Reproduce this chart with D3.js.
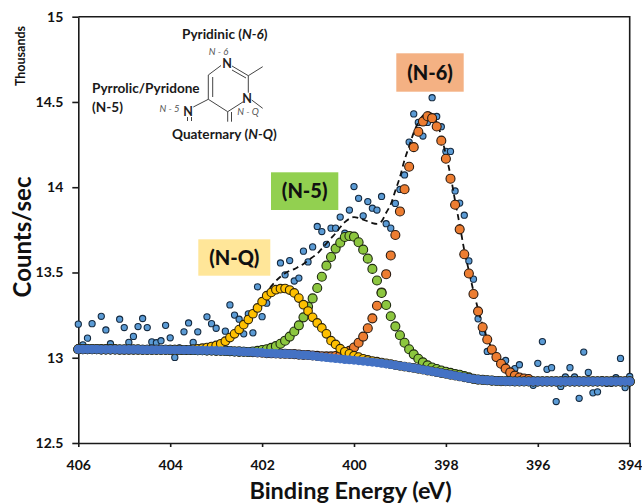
<!DOCTYPE html>
<html>
<head>
<meta charset="utf-8">
<script src="https://cdn.jsdelivr.net/npm/d3@7"></script>
<style>
body { margin: 0; background: #fff; }
text { font-family: Lato, "Open Sans", sans-serif; }
</style>
</head>
<body>
<div id="my_dataviz"></div>
<script>
// Binding energy, one reading every 0.1 eV
const energies = [
  406,405.9,405.8,405.7,405.6,405.5,405.4,405.3,405.2,405.1,
  405,404.9,404.8,404.7,404.6,404.5,404.4,404.3,404.2,404.1,
  404,403.9,403.8,403.7,403.6,403.5,403.4,403.3,403.2,403.1,
  403,402.9,402.8,402.7,402.6,402.5,402.4,402.3,402.2,402.1,
  402,401.9,401.8,401.7,401.6,401.5,401.4,401.3,401.2,401.1,
  401,400.9,400.8,400.7,400.6,400.5,400.4,400.3,400.2,400.1,
  400,399.9,399.8,399.7,399.6,399.5,399.4,399.3,399.2,399.1,
  399,398.9,398.8,398.7,398.6,398.5,398.4,398.3,398.2,398.1,
  398,397.9,397.8,397.7,397.6,397.5,397.4,397.3,397.2,397.1,
  397,396.9,396.8,396.7,396.6,396.5,396.4,396.3,396.2,396.1,
  396,395.9,395.8,395.7,395.6,395.5,395.4,395.3,395.2,395.1,
  395,394.9,394.8,394.7,394.6,394.5,394.4,394.3,394.2,394.1,
  394];

// Measured counts (thousands)
const rawCounts = [
  13.197,13.076,13.115,13.2,13.05,13.243,13.163,13.082,13.05,13.226,
  13.177,13.09,13.125,13.183,13.23,13.177,13.093,13.088,13.1,13.19,
  13.117,13.002,13.058,13.152,13.204,13.09,13.152,13.05,13.24,13.2,
  13.173,13.06,13.156,13.31,13.25,13.226,13.14,13.257,13.146,13.416,
  13.241,13.32,13.38,13.4,13.556,13.486,13.57,13.45,13.467,13.625,
  13.562,13.65,13.77,13.74,13.665,13.76,13.76,13.825,13.73,13.866,
  14.004,13.935,13.832,13.916,13.877,13.866,13.946,13.786,13.76,13.905,
  13.987,14.072,14.265,14.43,14.38,14.3,14.38,14.525,14.415,14.355,
  14.21,14.21,13.978,13.907,13.836,13.568,13.461,13.228,13.15,13.037,
  13.04,13,12.97,12.984,12.89,12.936,12.959,12.87,12.88,12.838,
  12.967,13.095,12.932,12.942,12.743,12.832,12.887,12.942,12.887,12.762,
  13.033,12.914,12.794,12.8,12.87,12.85,12.85,12.883,12.996,12.825,
  12.89];

// Background under the peaks
const baseline = [
  13.05,13.05,13.05,13.05,13.05,13.049,13.049,13.049,13.049,13.048,
  13.048,13.048,13.048,13.048,13.047,13.047,13.047,13.047,13.047,13.047,
  13.046,13.046,13.046,13.045,13.045,13.045,13.044,13.044,13.043,13.043,
  13.042,13.041,13.04,13.039,13.037,13.036,13.035,13.034,13.033,13.031,
  13.03,13.027,13.026,13.025,13.024,13.023,13.022,13.021,13.018,13.016,
  13.014,13.011,13.008,13.004,13.001,12.998,12.995,12.993,12.99,12.988,
  12.986,12.983,12.98,12.977,12.974,12.971,12.968,12.964,12.96,12.956,
  12.952,12.948,12.944,12.94,12.935,12.93,12.925,12.92,12.915,12.91,
  12.905,12.9,12.895,12.89,12.885,12.88,12.876,12.872,12.87,12.868,
  12.866,12.864,12.863,12.862,12.862,12.861,12.861,12.861,12.861,12.861,
  12.861,12.861,12.861,12.861,12.861,12.861,12.861,12.861,12.861,12.861,
  12.861,12.861,12.861,12.861,12.861,12.861,12.861,12.861,12.861,12.861,
  12.861];

// Fitted peaks, they sit on the baseline outside the values listed here
const n6Peak = [
  13.016,13.013,13.011,13.009,13.008,13.008,13.01,13.014,13.024,13.04,
  13.06,13.088,13.124,13.173,13.231,13.305,13.383,13.49,13.6,13.72,
  13.858,13.988,14.12,14.235,14.325,14.385,14.416,14.405,14.356,14.273,
  14.167,14.05,13.897,13.753,13.607,13.494,13.374,13.272,13.179,13.107,
  13.048,13.004,12.965,12.936,12.914,12.895,12.884,12.878,12.875];
const n6Counts = baseline.slice(0, 50).concat(n6Peak, baseline.slice(99));

const n5Peak = [
  13.034,13.037,13.04,13.045,13.05,13.058,13.068,13.082,13.1,13.124,
  13.154,13.19,13.237,13.3,13.348,13.409,13.475,13.54,13.591,13.64,
  13.675,13.708,13.714,13.71,13.677,13.634,13.581,13.521,13.453,13.38,
  13.309,13.243,13.184,13.132,13.088,13.05,13.02,12.994,12.973,12.955,
  12.943,12.934,12.925,12.918,12.911,12.905,12.9,12.893,12.885];
const n5Counts = baseline.slice(0, 37).concat(n5Peak, baseline.slice(86));

const nqPeak = [
  13.05,13.052,13.056,13.06,13.066,13.072,13.082,13.097,13.118,13.14,
  13.165,13.194,13.224,13.258,13.292,13.329,13.364,13.383,13.399,13.405,
  13.406,13.397,13.38,13.35,13.311,13.274,13.237,13.204,13.175,13.14,
  13.1,13.078,13.053,13.035,13.023,13.012,13.004,12.994,12.987,12.981,
  12.977,12.972,12.967,12.962,12.957];
const nqCounts = baseline.slice(0, 25).concat(nqPeak, baseline.slice(70));

// Sum of the fit (dashed line)
const envelopePart = [
  13.08,13.09,13.105,13.125,13.15,13.175,13.205,13.235,13.27,13.305,
  13.345,13.38,13.42,13.45,13.475,13.495,13.51,13.52,13.535,13.55,
  13.57,13.59,13.61,13.64,13.67,13.7,13.73,13.765,13.795,13.815,
  13.825,13.82,13.81,13.8,13.79,13.785,13.8,13.85,13.9,13.98,
  14.06,14.16,14.24,14.32,14.38,14.42,14.44,14.43,14.38,14.3,
  14.19,14.07,13.92,13.78,13.63,13.51,13.39,13.285,13.19,13.115,
  13.055,13.01,12.97,12.94,12.915,12.895,12.885,12.878,12.872];
const envelope = baseline.slice(0, 30).concat(envelopePart, baseline.slice(99));

const xTicks = [406, 404, 402, 400, 398, 396, 394];
const yTicks = [12.5, 13, 13.5, 14, 14.5, 15];

const margin = {top: 16.7, right: 12.3, bottom: 60, left: 78.3},
width = 642 - margin.left - margin.right,
height = 503 - margin.top - margin.bottom;

const root = d3.select("#my_dataviz")
.append("svg")
.attr("width", 642)
.attr("height", 503)
.style("display", "block");

const svg = root.append("g")
.attr("transform", `translate(${margin.left},${margin.top})`);

const x = d3.scaleLinear().domain([406, 394]).range([0, width]);
const y = d3.scaleLinear().domain([12.5, 15]).range([height, 0]);

// Frame: top and right edges
svg.append("path")
  .attr("fill", "none")
  .attr("stroke", "#1a1a1a")
  .attr("stroke-width", 1.6)
  .attr("d", `M0,0H${width}V${height}`);

// X axis
const xAxis = svg.append("g")
  .attr("transform", `translate(0,${height})`)
  .call(d3.axisBottom(x).tickValues(xTicks).tickFormat(d3.format("d")).tickSize(4).tickPadding(13).tickSizeOuter(0));

// Y axis
const yAxis = svg.append("g")
  .call(d3.axisLeft(y).tickValues(yTicks).tickFormat(d => d).tickSize(6).tickPadding(9).tickSizeOuter(0));

[xAxis, yAxis].forEach(function(a) {
  a.selectAll("path, line").attr("stroke", "#1a1a1a").attr("stroke-width", 1.6);
  a.selectAll("text").attr("fill", "#111").attr("font-size", 14).attr("font-weight", 700);
});

function dots(values, r, fill, stroke, sw) {
  svg.append("g").selectAll("circle")
    .data(values)
    .join("circle")
    .attr("cx", (d, i) => x(energies[i]))
    .attr("cy", d => y(d))
    .attr("r", r)
    .attr("fill", fill)
    .attr("stroke", stroke)
    .attr("stroke-width", sw);
}

dots(rawCounts, 3.1, "#5b9bd5", "#14293f", 1.1);

svg.append("path")
  .datum(envelope)
  .attr("fill", "none")
  .attr("stroke", "#111")
  .attr("stroke-width", 1.8)
  .attr("stroke-dasharray", "6,4")
  .attr("d", d3.line().x((d, i) => x(energies[i])).y(d => y(d)).curve(d3.curveMonotoneX));

dots(n6Counts, 4.5, "#ed7d31", "#2a1a10", 1.1);
dots(n5Counts, 4.5, "#8cc63f", "#1e2a10", 1.1);
dots(nqCounts, 4.3, "#ffc000", "#2f2508", 1.1);
dots(baseline, 4.5, "#4472c4", "none", 0);

// Peak labels
const peakLabels = [
  {text: "(N-6)", x: 396.3, y: 53.3, w: 67.4, h: 38.4, fill: "#f4b183"},
  {text: "(N-5)", x: 271, y: 172.3, w: 67.3, h: 37.7, fill: "#92d050"},
  {text: "(N-Q)", x: 198.3, y: 239.3, w: 72, h: 36.4, fill: "#ffe699"}
];
peakLabels.forEach(function(l) {
  root.append("rect").attr("x", l.x).attr("y", l.y).attr("width", l.w).attr("height", l.h).attr("fill", l.fill);
  root.append("text").attr("x", l.x + l.w / 2).attr("y", l.y + l.h / 2 + 7)
    .attr("text-anchor", "middle").attr("font-size", 20).attr("font-weight", 900).attr("fill", "#111")
    .text(l.text);
});

// Axis titles
root.append("text").attr("x", 350.5).attr("y", 499)
  .attr("text-anchor", "middle").attr("font-size", 23.5).attr("font-weight", 700).attr("fill", "#111")
  .text("Binding Energy (eV)");
root.append("text").attr("transform", "translate(31,237) rotate(-90)")
  .attr("text-anchor", "middle").attr("font-size", 24).attr("font-weight", 700).attr("fill", "#111")
  .text("Counts/sec");
root.append("text").attr("transform", "translate(25,56) rotate(-90)")
  .attr("text-anchor", "middle").attr("font-size", 12.5).attr("font-weight", 700).attr("fill", "#111")
  .text("Thousands");

// Structure inset
const bonds = [
  [221, 65.5, 208.3, 75], [208.3, 75, 208.3, 99.3], [212.7, 77, 212.7, 97],
  [208.3, 99.3, 227.7, 111.7], [227.7, 111.7, 243.3, 101.7],
  [248.3, 92.7, 248.3, 75.7], [248.3, 75.7, 232, 66], [246, 78, 232, 70],
  [248.3, 75.7, 262.7, 66.7], [251.7, 100, 262.7, 108.3],
  [227.7, 111.7, 227.7, 121.7], [231.5, 112, 231.5, 121.7],
  [208.3, 99.3, 193.3, 107],
  [187.5, 117, 187.5, 121], [191.5, 117, 191.5, 121]
];
root.append("g").selectAll("line")
  .data(bonds)
  .join("line")
  .attr("x1", d => d[0]).attr("y1", d => d[1])
  .attr("x2", d => d[2]).attr("y2", d => d[3])
  .attr("stroke", "#444").attr("stroke-width", 1);

const atoms = [
  {text: "N", x: 227, y: 68},
  {text: "N", x: 247, y: 103},
  {text: "N", x: 188, y: 116}
];
root.append("g").selectAll("text")
  .data(atoms)
  .join("text")
  .attr("x", d => d.x).attr("y", d => d.y)
  .attr("text-anchor", "middle").attr("font-size", 12.5).attr("font-weight", 700).attr("fill", "#222")
  .text(d => d.text);

const siteTags = [
  {text: "N - 6", x: 218.5, y: 55},
  {text: "N - 5", x: 169.5, y: 112},
  {text: "N - Q", x: 248, y: 115}
];
root.append("g").selectAll("text")
  .data(siteTags)
  .join("text")
  .attr("x", d => d.x).attr("y", d => d.y)
  .attr("text-anchor", "middle").attr("font-size", 9.5).attr("font-style", "italic").attr("fill", "#555")
  .text(d => d.text);

function insetLabel(px, py, plain, italic) {
  const t = root.append("text").attr("x", px).attr("y", py)
    .attr("font-size", 13.6).attr("font-weight", 700).attr("fill", "#1a1a1a");
  t.append("tspan").text(plain);
  if (italic) {
    t.append("tspan").attr("font-style", "italic").text(italic);
    t.append("tspan").text(")");
  }
}
insetLabel(182, 38.5, "Pyridinic (", "N-6");
insetLabel(92, 92.5, "Pyrrolic/Pyridone");
insetLabel(92, 111.5, "(N-5)");
insetLabel(172, 138.5, "Quaternary (", "N-Q");
</script>
</body>
</html>
